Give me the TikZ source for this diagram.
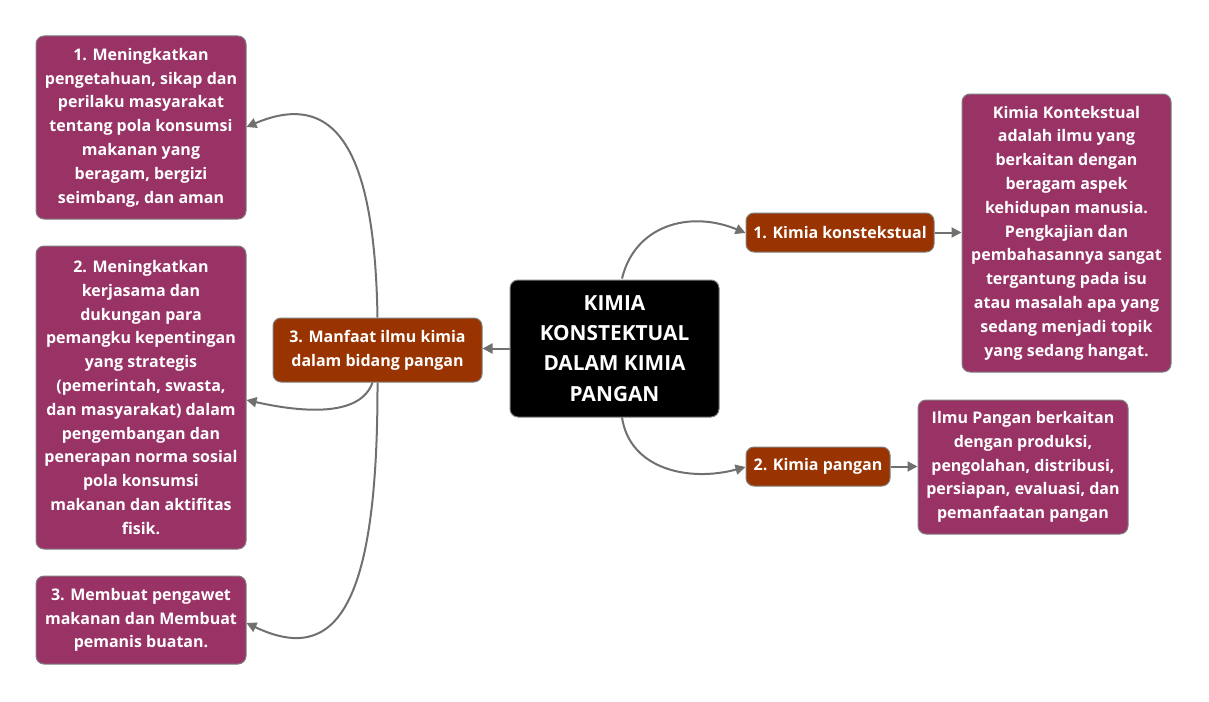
\documentclass[tikz,border=0pt]{standalone}
\usepackage{fontspec}
\setmainfont{Open Sans}
\usetikzlibrary{arrows.meta,backgrounds}
\definecolor{purp}{HTML}{993366}
\definecolor{brn}{HTML}{993300}
\definecolor{edge}{HTML}{707070}
\definecolor{bord}{HTML}{7F7F7F}
\begin{document}
\begin{tikzpicture}[x=1pt,y=-1pt,
  box/.style={draw=bord,line width=1pt,rounded corners=8pt,inner sep=0pt,align=center,text=white,font=\fontsize{16}{23.8}\selectfont\bfseries},
  leaf/.style={box,fill=purp},
  mid/.style={box,fill=brn},
  rootbox/.style={box,fill=black,font=\fontsize{20.8}{30.2}\selectfont\bfseries},
  conn/.style={draw=edge,line width=2pt,-{Triangle[length=10pt,width=10pt]}}]
\useasboundingbox (0,0) rectangle (1209,701);
\node[rootbox,minimum width=209pt,minimum height=137pt] (root) at (614.5,348.5) {KIMIA\\KONSTEKTUAL\\DALAM KIMIA\\PANGAN};
\node[mid,minimum width=188pt,minimum height=39pt] (n1) at (840,232.5) {1. Kimia konstekstual};
\node[mid,minimum width=144pt,minimum height=39pt] (n2) at (818,466.5) {2. Kimia pangan};
\node[mid,minimum width=209pt,minimum height=64pt] (n3) at (377.5,350) {3. Manfaat ilmu kimia\\dalam bidang pangan};
\node[leaf,minimum width=209pt,minimum height=278pt] (r1) at (1066.5,233) {Kimia Kontekstual\\adalah ilmu yang\\berkaitan dengan\\beragam aspek\\kehidupan manusia.\\Pengkajian dan\\pembahasannya sangat\\tergantung pada isu\\atau masalah apa yang\\sedang menjadi topik\\yang sedang hangat.};
\node[leaf,minimum width=210pt,minimum height=134pt] (r2) at (1023,467) {Ilmu Pangan berkaitan\\dengan produksi,\\pengolahan, distribusi,\\persiapan, evaluasi, dan\\pemanfaatan pangan};
\node[leaf,minimum width=210pt,minimum height=183pt] (l1) at (141,127.5) {1. Meningkatkan\\pengetahuan, sikap dan\\perilaku masyarakat\\tentang pola konsumsi\\makanan yang\\beragam, bergizi\\seimbang, dan aman};
\node[leaf,minimum width=210pt,minimum height=303pt] (l2) at (141,397.5) {2. Meningkatkan\\kerjasama dan\\dukungan para\\pemangku kepentingan\\yang strategis\\(pemerintah, swasta,\\dan masyarakat) dalam\\pengembangan dan\\penerapan norma sosial\\pola konsumsi\\makanan dan aktifitas\\fisik.};
\node[leaf,minimum width=210pt,minimum height=88pt] (l3) at (141,620) {3. Membuat pengawet\\makanan dan Membuat\\pemanis buatan.};
\begin{scope}[on background layer]
\draw[conn] ([xshift=7.5pt,yshift=1pt]root.north) .. controls (635,225) and (690,210) .. ([yshift=-0.5pt]n1.west);
\draw[conn] ([xshift=7.5pt]root.south) .. controls (630,470) and (690,482) .. ([yshift=-0.5pt]n2.west);
\draw[conn] (root.west) -- (root.west -| n3.east);
\draw[conn] (n1.east) -- (n1.east -| r1.west);
\draw[conn] (n2.east) -- (n2.east -| r2.west);
\draw[conn] (n3.north) .. controls (375,170) and (345,85) .. ([yshift=0.5pt]l1.east);
\draw[conn] ([xshift=-5pt]n3.south) .. controls (360,418) and (300,412) .. ([yshift=-2.5pt]l2.east);
\draw[conn] (n3.south) .. controls (378,610) and (335,665) .. ([yshift=-3pt]l3.east);
\end{scope}
\end{tikzpicture}
\end{document}
